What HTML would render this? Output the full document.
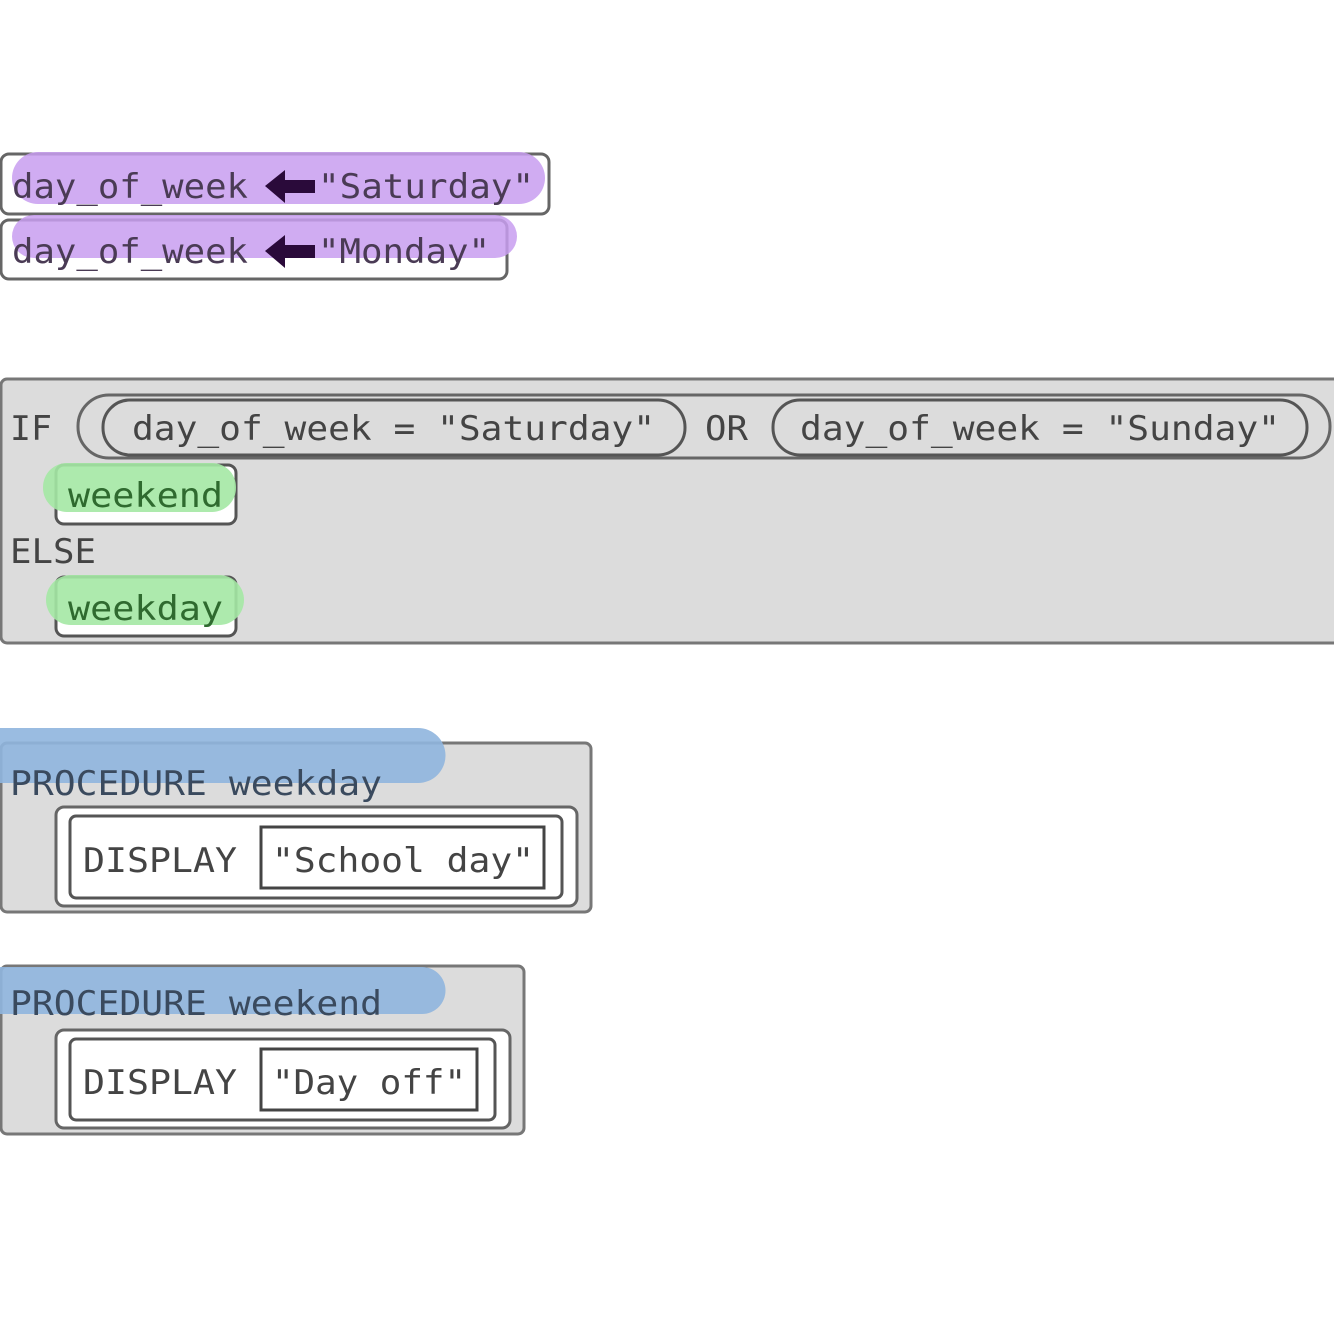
<!DOCTYPE html>
<html><head><meta charset="utf-8"><style>html,body{margin:0;padding:0;background:#fff}svg{display:block}</style></head>
<body>
<svg width="1334" height="1334" viewBox="0 0 1334 1334" xmlns="http://www.w3.org/2000/svg" font-family="'DejaVu Sans Mono', 'Liberation Mono', monospace" font-size="34">
<!-- assignments -->
<rect x="1" y="154" width="548" height="60" rx="8" fill="#fff" stroke="#666" stroke-width="3"/>
<rect x="12" y="152" width="533" height="52" rx="26" fill="#c89ef0" opacity="0.85"/>
<rect x="1" y="220" width="506" height="59" rx="8" fill="#fff" stroke="#666" stroke-width="3"/>
<rect x="12" y="215" width="505" height="43" rx="22" fill="#c89ef0" opacity="0.85"/>
<text x="12" y="198" fill="#4a3b55" textLength="236" lengthAdjust="spacingAndGlyphs">day_of_week</text>
<path d="M265 186 L285 170 L285 180 L315 180 L315 193 L285 193 L285 203 Z" fill="#2a0a3a"/>
<text x="318" y="198" fill="#4a3b55" textLength="216" lengthAdjust="spacingAndGlyphs">"Saturday"</text>
<text x="12" y="263" fill="#4a3b55" textLength="236" lengthAdjust="spacingAndGlyphs">day_of_week</text>
<path d="M265 251 L285 235 L285 245 L315 245 L315 258 L285 258 L285 268 Z" fill="#2a0a3a"/>
<text x="318" y="263" fill="#4a3b55" textLength="172" lengthAdjust="spacingAndGlyphs">"Monday"</text>

<!-- IF block -->
<rect x="1" y="379" width="1340" height="264" rx="6" fill="#dcdcdc" stroke="#777" stroke-width="3"/>
<text x="10" y="440" fill="#444" textLength="42" lengthAdjust="spacingAndGlyphs">IF</text>
<rect x="78" y="395" width="1252" height="63" rx="31" fill="#dcdcdc" stroke="#666" stroke-width="3"/>
<rect x="103" y="400" width="582" height="55" rx="27" fill="#dcdcdc" stroke="#555" stroke-width="3"/>
<text x="132" y="440" fill="#444" textLength="523" lengthAdjust="spacingAndGlyphs">day_of_week = "Saturday"</text>
<text x="705" y="440" fill="#444" textLength="43" lengthAdjust="spacingAndGlyphs">OR</text>
<rect x="773" y="400" width="534" height="55" rx="27" fill="#dcdcdc" stroke="#555" stroke-width="3"/>
<text x="800" y="440" fill="#444" textLength="480" lengthAdjust="spacingAndGlyphs">day_of_week = "Sunday"</text>

<rect x="56" y="465" width="180" height="59" rx="8" fill="#fff" stroke="#555" stroke-width="3"/>
<rect x="43" y="463" width="193" height="49" rx="24" fill="#a4e8a4" opacity="0.9"/>
<text x="68" y="507" fill="#2f6a2f" textLength="155" lengthAdjust="spacingAndGlyphs">weekend</text>
<text x="10" y="563" fill="#444" textLength="86" lengthAdjust="spacingAndGlyphs">ELSE</text>
<rect x="56" y="577" width="180" height="59" rx="8" fill="#fff" stroke="#555" stroke-width="3"/>
<rect x="46" y="575" width="198" height="50" rx="25" fill="#a4e8a4" opacity="0.9"/>
<text x="68" y="620" fill="#2f6a2f" textLength="155" lengthAdjust="spacingAndGlyphs">weekday</text>

<!-- Procedure weekday -->
<rect x="1" y="743" width="590" height="169" rx="6" fill="#dcdcdc" stroke="#777" stroke-width="3"/>
<path d="M0 728 H418 A27 27 0 0 1 418 783 H0 Z" fill="#8fb5de" opacity="0.9"/>
<text x="10" y="795" fill="#3a4a5e" textLength="372" lengthAdjust="spacingAndGlyphs">PROCEDURE weekday</text>
<rect x="56" y="807" width="521" height="99" rx="8" fill="#fff" stroke="#666" stroke-width="3"/>
<rect x="70" y="816" width="492" height="82" rx="6" fill="#fff" stroke="#555" stroke-width="3"/>
<text x="83" y="872" fill="#444" textLength="154" lengthAdjust="spacingAndGlyphs">DISPLAY</text>
<rect x="261" y="827" width="283" height="61" fill="#fff" stroke="#444" stroke-width="3"/>
<text x="272" y="872" fill="#444" textLength="262" lengthAdjust="spacingAndGlyphs">"School day"</text>

<!-- Procedure weekend -->
<rect x="1" y="966" width="523" height="168" rx="6" fill="#dcdcdc" stroke="#777" stroke-width="3"/>
<path d="M0 967 H422 A23 23 0 0 1 422 1014 H0 Z" fill="#8fb5de" opacity="0.9"/>
<text x="10" y="1015" fill="#3a4a5e" textLength="372" lengthAdjust="spacingAndGlyphs">PROCEDURE weekend</text>
<rect x="56" y="1030" width="454" height="98" rx="8" fill="#fff" stroke="#666" stroke-width="3"/>
<rect x="70" y="1039" width="425" height="81" rx="6" fill="#fff" stroke="#555" stroke-width="3"/>
<text x="83" y="1094" fill="#444" textLength="154" lengthAdjust="spacingAndGlyphs">DISPLAY</text>
<rect x="261" y="1049" width="216" height="61" fill="#fff" stroke="#444" stroke-width="3"/>
<text x="272" y="1094" fill="#444" textLength="194" lengthAdjust="spacingAndGlyphs">"Day off"</text>
</svg>
</body></html>
